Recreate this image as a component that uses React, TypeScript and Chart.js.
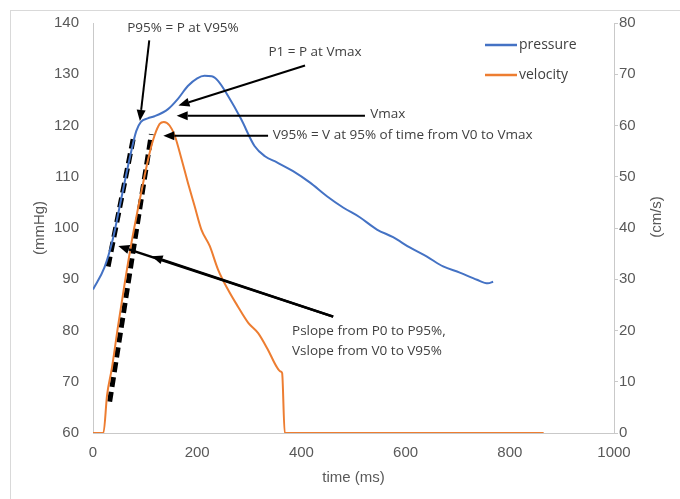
import React, { useEffect, useRef } from 'react';
import { Chart, registerables } from 'chart.js';

Chart.register(...registerables);

// ---- data ----
const pressureTime = [0, 22, 38, 54, 70, 83, 92, 105, 118, 144, 163, 182, 200, 214, 228, 240, 259, 284, 310, 330, 353, 384, 416, 449, 480, 512, 545, 576, 608, 641, 672, 704, 737, 758, 768];
const pressureValues = [88, 92.3, 97.8, 105.6, 113.4, 118.9, 120.7, 121.4, 121.8, 123.2, 125.2, 127.7, 129.2, 129.7, 129.6, 128.7, 125.8, 121.3, 116, 114, 112.8, 111.1, 108.9, 106.2, 104, 102.1, 99.7, 98.2, 96.2, 94.4, 92.5, 91.3, 89.9, 89.2, 89.5];

const velocityTime = [0, 20, 27, 36, 48, 61, 74, 86, 99, 109, 118, 128, 136, 147, 157, 170, 182, 195, 208, 224, 240, 259, 278, 298, 317, 336, 352, 360, 363, 368, 865];
const velocityValues = [0, 0, 7.4, 12.5, 20.8, 29.3, 37.2, 43.6, 50.2, 54.8, 58, 60.3, 60.7, 60, 58, 53.4, 48.9, 44.3, 39.7, 36.5, 31.9, 28, 24.7, 21.5, 19.5, 16.2, 13, 12, 11.7, 0, 0];

const pSlopeTime = [29, 77];
const pSlopeValues = [92.5, 117.3];
const vSlopeTime = [32, 112];
const vSlopeValues = [6.1, 58.3];

const seriesLabels = ['pressure', 'velocity'];
const axisTitles = ['time (ms)', '(mmHg)', '(cm/s)'];

// annotations, in data units (time, mmHg)
const arrowFrom = [[108, 136.6], [407, 131.7], [522, 121.9], [336, 118.0], [461, 82.7], [461, 82.7]];
const arrowTo = [[90, 120.9], [164, 123.9], [160.6, 121.9], [135, 118.0], [48.6, 96.5], [112.5, 94.5]];
const noteText = ['P95% = P at V95%', 'P1 = P at Vmax', 'Vmax', 'V95% = V at 95% of time from V0 to Vmax', 'Pslope from P0 to P95%,', 'Vslope from V0 to V95%'];
const notePos = [[172.7, 138.9], [426, 134.4], [532, 122.2], [345, 118.1], [382, 79.8], [382, 75.9]];
const noteAlign = ['center', 'center', 'left', 'left', 'left', 'left'];

const BLUE = '#4472C4';
const ORANGE = '#ED7D31';
const TICK = '#595959';
const AXIS = '#c9c9c9';

const toXY = (xs: number[], ys: number[]) => xs.map((x, i) => ({ x, y: ys[i] }));

const decorPlugin = {
  id: 'decor',
  beforeDraw(chart: any) {
    const { ctx, width, height } = chart;
    ctx.save();
    ctx.fillStyle = '#ffffff';
    ctx.fillRect(0, 0, width, height);
    ctx.strokeStyle = '#d9d9d9';
    ctx.lineWidth = 1;
    ctx.strokeRect(10.5, 10.5, width + 20, height + 20);
    ctx.restore();
  },
  afterDatasetsDraw(chart: any) {
    const { ctx, scales, chartArea } = chart;
    const xs = scales.x;
    const ys = scales.y;
    ctx.save();
    // arrows
    ctx.strokeStyle = '#000000';
    ctx.fillStyle = '#000000';
    for (let i = 0; i < arrowFrom.length; i++) {
      const x1 = xs.getPixelForValue(arrowFrom[i][0]);
      const y1 = ys.getPixelForValue(arrowFrom[i][1]);
      const x2 = xs.getPixelForValue(arrowTo[i][0]);
      const y2 = ys.getPixelForValue(arrowTo[i][1]);
      const ang = Math.atan2(y2 - y1, x2 - x1);
      const hl = 11;
      const hw = 4.5;
      const bx = x2 - hl * Math.cos(ang);
      const by = y2 - hl * Math.sin(ang);
      ctx.lineWidth = i >= 4 ? 2.5 : 2;
      ctx.beginPath();
      ctx.moveTo(x1, y1);
      ctx.lineTo(bx, by);
      ctx.stroke();
      ctx.beginPath();
      ctx.moveTo(x2, y2);
      ctx.lineTo(bx + hw * Math.sin(ang), by - hw * Math.cos(ang));
      ctx.lineTo(bx - hw * Math.sin(ang), by + hw * Math.cos(ang));
      ctx.closePath();
      ctx.fill();
    }
    // notes
    ctx.fillStyle = '#404040';
    ctx.font = '13.5px "Open Sans"';
    ctx.textBaseline = 'middle';
    for (let i = 0; i < noteText.length; i++) {
      ctx.textAlign = noteAlign[i] as CanvasTextAlign;
      ctx.fillText(noteText[i], xs.getPixelForValue(notePos[i][0]), ys.getPixelForValue(notePos[i][1]));
    }
    // legend
    ctx.font = '14px "Open Sans"';
    const colors = [BLUE, ORANGE];
    for (let i = 0; i < 2; i++) {
      const ly = chartArea.top + 22 + i * 30;
      const lx = chartArea.right - 129;
      ctx.strokeStyle = colors[i];
      ctx.lineWidth = 2.5;
      ctx.beginPath();
      ctx.moveTo(lx, ly);
      ctx.lineTo(lx + 32, ly);
      ctx.stroke();
      ctx.fillStyle = '#404040';
      ctx.textAlign = 'left';
      ctx.fillText(chart.data.datasets[i].label, lx + 34, ly);
    }
    // right axis title (rotated, reading upward)
    ctx.fillStyle = TICK;
    ctx.font = '15px "Liberation Sans"';
    ctx.textAlign = 'center';
    ctx.translate(657, (chartArea.top + chartArea.bottom) / 2 - 11);
    ctx.rotate(-Math.PI / 2);
    ctx.fillText(axisTitles[2], 0, 0);
    ctx.restore();
  },
};

export default function App() {
  const ref = useRef<HTMLCanvasElement>(null);
  useEffect(() => {
    document.body.style.margin = '0';
    const tickFont = { family: '"Liberation Sans"', size: 15 };
    const plain = (v: any) => String(v);
    const chart = new Chart(ref.current!, {
      type: 'line',
      data: {
        datasets: [
          { label: seriesLabels[0], data: toXY(pressureTime, pressureValues), borderColor: BLUE, borderWidth: 2, pointRadius: 0, cubicInterpolationMode: 'monotone', yAxisID: 'y' },
          { label: seriesLabels[1], data: toXY(velocityTime, velocityValues), borderColor: ORANGE, borderWidth: 2, pointRadius: 0, cubicInterpolationMode: 'monotone', yAxisID: 'y1' },
          { label: 'Pslope', data: toXY(pSlopeTime, pSlopeValues), borderColor: '#000000', borderWidth: 5, borderDash: [10, 5], pointRadius: 0, yAxisID: 'y' },
          { label: 'Vslope', data: toXY(vSlopeTime, vSlopeValues), borderColor: '#000000', borderWidth: 5, borderDash: [10, 5], pointRadius: 0, yAxisID: 'y1' },
        ],
      } as any,
      options: {
        responsive: false,
        animation: false,
        layout: { padding: { top: 23, left: 0, right: 0, bottom: 0 } },
        plugins: { legend: { display: false }, tooltip: { enabled: false } },
        scales: {
          x: {
            type: 'linear', min: 0, max: 1000,
            ticks: { stepSize: 200, font: tickFont, color: TICK, padding: 3, callback: plain },
            grid: { display: false },
            border: { display: true, color: AXIS },
            title: { display: true, text: axisTitles[0], font: tickFont, color: TICK, padding: { top: 0, bottom: 12 } },
            afterFit: (s: any) => { s.height = 66; },
          },
          y: {
            type: 'linear', position: 'left', min: 60, max: 140,
            ticks: { stepSize: 10, font: tickFont, color: TICK, padding: 6, callback: plain },
            grid: { display: false },
            border: { display: true, color: AXIS },
            title: { display: true, text: axisTitles[1], font: tickFont, color: TICK, padding: { top: 31, bottom: 0 } },
            afterFit: (s: any) => { s.width = 93; },
          },
          y1: {
            type: 'linear', position: 'right', min: 0, max: 80,
            ticks: { stepSize: 10, font: tickFont, color: TICK, padding: 1, callback: plain },
            grid: { display: true, drawOnChartArea: false, drawTicks: true, tickLength: 4, color: AXIS },
            border: { display: true, color: AXIS },
            afterFit: (s: any) => { s.width = 66; },
          },
        },
      } as any,
      plugins: [decorPlugin],
    });
    return () => chart.destroy();
  }, []);
  return <canvas ref={ref} width={680} height={499} style={{ display: 'block' }} />;
}
